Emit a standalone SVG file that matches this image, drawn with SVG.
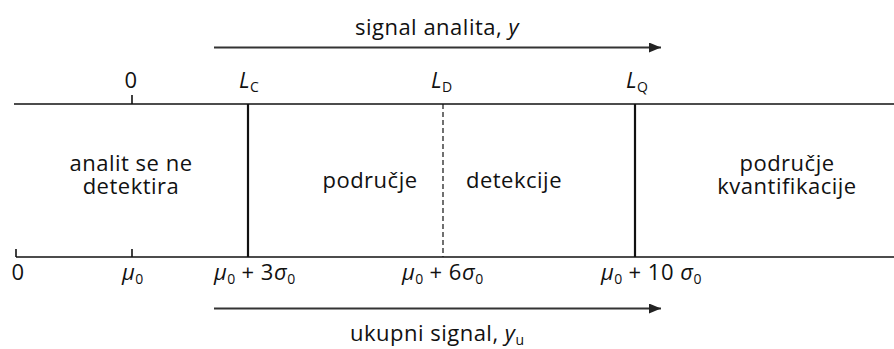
<svg xmlns="http://www.w3.org/2000/svg" width="894" height="349" viewBox="0 0 894 349">
<style>
text{font-family:"Open Sans","Liberation Sans",sans-serif;fill:#111;font-size:22px;letter-spacing:0.5px}
.m{text-anchor:middle}
.it{font-style:italic}
.sub{font-size:14px;letter-spacing:0}
.axis{stroke:#111;stroke-width:1.6;fill:none}
.bound{stroke:#111;stroke-width:2.2;fill:none}
.dash{stroke:#111;stroke-width:1.2;stroke-dasharray:5 3;fill:none}
.arr{stroke:#333;stroke-width:2.2;fill:none;marker-end:url(#ah)}
</style>
<defs>
<marker id="ah" markerWidth="12" markerHeight="10" refX="12" refY="5" orient="auto" markerUnits="userSpaceOnUse">
<path d="M0,0 L12,5 L0,10 Z" fill="#222"/>
</marker>
</defs>
<rect width="894" height="349" fill="#fff"/>
<g id="axes">
<path class="axis" d="M14,104 H894"/>
<path class="axis" d="M16,257 H894"/>
<path class="axis" d="M132,95 V104"/>
<path class="axis" d="M16,249 V257"/>
<path class="axis" d="M132,249 V257"/>
</g>
<g id="connectors">
<path class="arr" d="M214,47.5 H661"/>
<path class="arr" d="M214,308.5 H661"/>
</g>
<g id="boundary-LC"><path class="bound" d="M248,104 V257"/></g>
<g id="boundary-LD"><path class="dash" d="M443,104 V257"/></g>
<g id="boundary-LQ"><path class="bound" d="M635,104 V257"/></g>
<g id="top-labels">
<text class="m" x="437" y="35">signal analita, <tspan class="it">y</tspan></text>
<text class="m" x="131" y="88">0</text>
<text x="239" y="88"><tspan class="it">L</tspan><tspan class="sub" dy="4">C</tspan></text>
<text x="431" y="88"><tspan class="it">L</tspan><tspan class="sub" dy="4">D</tspan></text>
<text x="626" y="88"><tspan class="it">L</tspan><tspan class="sub" dy="4">Q</tspan></text>
</g>
<g id="region-1">
<text class="m" x="131" y="171"><tspan x="131">analit se ne</tspan><tspan x="131" dy="23">detektira</tspan></text>
</g>
<g id="region-2">
<text class="m" x="370" y="188">područje</text>
<text class="m" x="514" y="188">detekcije</text>
</g>
<g id="region-3">
<text class="m" x="787" y="171"><tspan x="787">područje</tspan><tspan x="787" dy="23">kvantifikacije</tspan></text>
</g>
<g id="bottom-labels">
<text class="m" x="18" y="280">0</text>
<text x="122" y="280"><tspan class="it">μ</tspan><tspan class="sub" dy="4">0</tspan></text>
<text x="214" y="280"><tspan class="it">μ</tspan><tspan class="sub" dy="4">0</tspan><tspan dy="-4"> + 3</tspan><tspan class="it">σ</tspan><tspan class="sub" dy="4">0</tspan></text>
<text x="402" y="280"><tspan class="it">μ</tspan><tspan class="sub" dy="4">0</tspan><tspan dy="-4"> + 6</tspan><tspan class="it">σ</tspan><tspan class="sub" dy="4">0</tspan></text>
<text x="601" y="280"><tspan class="it">μ</tspan><tspan class="sub" dy="4">0</tspan><tspan dy="-4"> + 10 </tspan><tspan class="it">σ</tspan><tspan class="sub" dy="4">0</tspan></text>
<text class="m" x="437" y="341">ukupni signal, <tspan class="it">y</tspan><tspan class="sub" dy="4">u</tspan></text>
</g>
</svg>
